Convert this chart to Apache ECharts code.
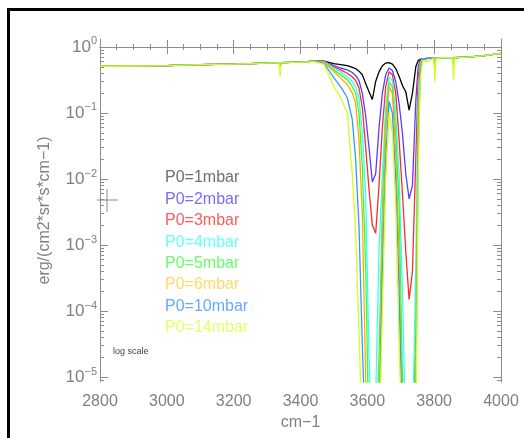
<!DOCTYPE html>
<html>
<head>
<meta charset="utf-8">
<title>P0 spectra</title>
<script src="https://cdn.jsdelivr.net/npm/echarts@6/dist/echarts.min.js"></script>
<style>
  html, body { margin: 0; padding: 0; background: #fff; }
  #chart { width: 524px; height: 438px; }
</style>
</head>
<body>
<div id="chart"></div>
<script>
// wavenumber grid (cm-1), shared by all spectra
const wavenumber = [2800, 2900, 3000, 3100, 3200, 3300, 3336, 3339, 3342, 3400, 3440,
  3470, 3500, 3520, 3540, 3555,
  3565, 3575, 3585, 3595, 3605, 3615, 3625, 3635, 3645, 3655, 3665, 3675, 3685, 3695,
  3705, 3715, 3725, 3735, 3745, 3752, 3758,
  3765, 3780, 3799, 3802, 3805, 3855, 3858, 3861, 3900, 3950, 4000];

// radiance, erg/(cm2*sr*s*cm-1)
const p1mbar = [0.51, 0.515, 0.52, 0.54, 0.55, 0.57, 0.58, 0.58, 0.58, 0.59, 0.61,
  0.61, 0.56, 0.54, 0.52, 0.49,
  0.47, 0.43, 0.38, 0.28, 0.21, 0.16, 0.30, 0.42, 0.52, 0.57, 0.58, 0.55, 0.47, 0.36,
  0.26, 0.21, 0.11, 0.20, 0.50, 0.62, 0.65,
  0.66, 0.67, 0.68, 0.68, 0.68, 0.69, 0.69, 0.69, 0.70, 0.74, 0.80];
const p2mbar = [0.51, 0.515, 0.52, 0.54, 0.55, 0.57, 0.58, 0.58, 0.58, 0.59, 0.61,
  0.61, 0.52, 0.48, 0.45, 0.41,
  0.37, 0.31, 0.20, 0.09, 0.03, 0.009, 0.012, 0.06, 0.20, 0.38, 0.48, 0.44, 0.30, 0.14,
  0.05, 0.012, 0.005, 0.008, 0.15, 0.50, 0.63,
  0.66, 0.67, 0.68, 0.68, 0.68, 0.69, 0.69, 0.69, 0.70, 0.74, 0.80];
const p3mbar = [0.51, 0.515, 0.52, 0.54, 0.55, 0.57, 0.58, 0.58, 0.58, 0.59, 0.61,
  0.60, 0.50, 0.45, 0.40, 0.35,
  0.31, 0.24, 0.12, 0.03, 0.007, 0.002, 0.0015, 0.008, 0.06, 0.25, 0.42, 0.38, 0.20, 0.04,
  0.006, 0.0008, 0.00015, 0.0004, 0.02, 0.35, 0.60,
  0.66, 0.67, 0.68, 0.68, 0.68, 0.69, 0.69, 0.69, 0.70, 0.74, 0.80];
const p4mbar = [0.51, 0.515, 0.52, 0.54, 0.55, 0.57, 0.58, 0.58, 0.58, 0.59, 0.61,
  0.60, 0.48, 0.42, 0.36, 0.30,
  0.25, 0.17, 0.05, 0.006, 0.00002, 1e-6, 5e-6, 0.0008, 0.012, 0.12, 0.35, 0.31, 0.10, 0.012,
  0.0002, 1e-6, 1e-6, 1e-6, 0.0005, 0.15, 0.55,
  0.66, 0.67, 0.68, 0.68, 0.68, 0.69, 0.69, 0.69, 0.70, 0.74, 0.80];
const p5mbar = [0.51, 0.515, 0.52, 0.54, 0.55, 0.57, 0.58, 0.50, 0.58, 0.59, 0.61,
  0.59, 0.45, 0.38, 0.32, 0.25,
  0.20, 0.10, 0.015, 0.0005, 1e-6, 1e-6, 1e-6, 2e-5, 0.004, 0.08, 0.29, 0.25, 0.05, 0.004,
  1e-5, 1e-6, 1e-6, 1e-6, 5e-5, 0.08, 0.50,
  0.66, 0.67, 0.68, 0.50, 0.68, 0.69, 0.52, 0.69, 0.70, 0.74, 0.80];
const p6mbar = [0.51, 0.515, 0.52, 0.54, 0.55, 0.57, 0.58, 0.58, 0.58, 0.59, 0.61,
  0.59, 0.42, 0.34, 0.27, 0.20,
  0.14, 0.04, 0.003, 1e-5, 1e-6, 1e-6, 1e-6, 3e-6, 0.0015, 0.05, 0.25, 0.20, 0.025, 0.0008,
  1e-6, 1e-6, 1e-6, 1e-6, 1e-5, 0.04, 0.45,
  0.65, 0.67, 0.68, 0.68, 0.68, 0.69, 0.69, 0.69, 0.70, 0.74, 0.80];
const p10mbar = [0.51, 0.515, 0.52, 0.54, 0.55, 0.57, 0.58, 0.52, 0.58, 0.59, 0.61,
  0.57, 0.34, 0.25, 0.17, 0.08,
  0.02, 0.002, 3e-5, 1e-6, 1e-6, 1e-6, 1e-6, 1e-6, 0.0004, 0.02, 0.15, 0.10, 0.01, 0.0002,
  1e-6, 1e-6, 1e-6, 1e-6, 2e-6, 0.02, 0.40,
  0.64, 0.67, 0.68, 0.60, 0.68, 0.69, 0.69, 0.69, 0.70, 0.74, 0.80];
const p14mbar = [0.51, 0.515, 0.52, 0.54, 0.55, 0.57, 0.58, 0.35, 0.58, 0.59, 0.60,
  0.55, 0.25, 0.17, 0.10, 0.012,
  0.0015, 5e-5, 1e-6, 1e-6, 1e-6, 1e-6, 1e-6, 1e-6, 0.0001, 0.01, 0.10, 0.05, 0.004, 3e-5,
  1e-6, 1e-6, 1e-6, 1e-6, 1e-6, 0.01, 0.30,
  0.62, 0.60, 0.68, 0.30, 0.68, 0.69, 0.32, 0.69, 0.70, 0.74, 0.80];

const seriesNames = ['P0=1mbar', 'P0=2mbar', 'P0=3mbar', 'P0=4mbar',
  'P0=5mbar', 'P0=6mbar', 'P0=10mbar', 'P0=14mbar'];
const seriesValues = [p1mbar, p2mbar, p3mbar, p4mbar, p5mbar, p6mbar, p10mbar, p14mbar];
const lineColors = ['#000000', '#5a3cff', '#ff2a2a', '#33ffff',
  '#33ff33', '#ffaa00', '#3399ff', '#d4ff1a'];
const legendColors = ['#6e6e6e', '#7d6bff', '#ff5c5c', '#66ffff',
  '#66ff66', '#ffd966', '#66aaff', '#e6ff66'];

// axes
const xMin = 2800, xMax = 4000, xStep = 200;
const yMin = 8.4e-6, yMax = 1.32;
const yDecades = [0, -1, -2, -3, -4, -5];

const fontFamily = "'Liberation Sans', Arial, sans-serif";
const axisGray = '#8c8c8c';
const textGray = '#808080';

const expMin = Math.log10(yMin);
const expMax = Math.log10(yMax);
// log sub-ticks 2..9 inside each decade
const minorExp = [];
for (let d = -6; d <= 0; d++) {
  for (let k = 2; k <= 9; k++) {
    const v = d + Math.log10(k);
    if (v > expMin && v < expMax) minorExp.push(v);
  }
}

function decadeAxis(position, major, withLabels) {
  return {
    type: 'value',
    position: position,
    min: expMin,
    max: expMax,
    splitLine: { show: false },
    axisLine: { show: major, lineStyle: { color: axisGray, width: 1 } },
    axisTick: {
      show: true,
      inside: true,
      length: major ? 8 : 4,
      customValues: major ? yDecades : minorExp,
      lineStyle: { color: axisGray, width: 1 }
    },
    axisLabel: withLabels ? {
      show: true,
      margin: 3,
      customValues: yDecades,
      formatter: (v) => '{b|10}{s|' + (v < 0 ? '\u2212' + Math.abs(Math.round(v)) : '0') + '}',
      rich: {
        b: { fontSize: 17, lineHeight: 22, color: textGray, fontFamily: fontFamily },
        s: { fontSize: 11, verticalAlign: 'top', color: textGray, fontFamily: fontFamily }
      }
    } : { show: false },
    name: withLabels ? 'erg/(cm2*sr*s*cm\u22121)' : '',
    nameLocation: 'middle',
    nameGap: 47,
    nameTextStyle: { fontSize: 16, color: textGray, fontFamily: fontFamily }
  };
}

function wnAxis(position, withLabels) {
  return {
    type: 'value',
    position: position,
    min: xMin,
    max: xMax,
    interval: xStep,
    splitLine: { show: false },
    axisLine: { show: true, lineStyle: { color: axisGray, width: 1 } },
    axisTick: { show: true, inside: true, length: 7, lineStyle: { color: axisGray } },
    minorTick: { show: true, splitNumber: 4, length: 3, lineStyle: { color: axisGray } },
    axisLabel: withLabels ? {
      show: true, margin: 12, fontSize: 16, color: textGray, fontFamily: fontFamily,
      formatter: (v) => String(v)
    } : { show: false },
    name: withLabels ? 'cm\u22121' : '',
    nameLocation: 'middle',
    nameGap: 29,
    nameTextStyle: { fontSize: 16, color: textGray, fontFamily: fontFamily }
  };
}

const chart = echarts.init(document.getElementById('chart'), null, { renderer: 'canvas' });

chart.setOption({
  animation: false,
  backgroundColor: '#ffffff',
  grid: { left: 100, right: 23, top: 39, bottom: 56, containLabel: false, outerBoundsMode: 'none' },
  legend: {
    orient: 'vertical',
    left: 160,
    top: 168,
    padding: 0,
    itemGap: 1.4,
    itemWidth: 0,
    itemHeight: 10,
    icon: 'none',
    selectedMode: false,
    textStyle: { fontSize: 16, lineHeight: 20, fontFamily: fontFamily },
    data: seriesNames.map((n, i) => ({ name: n, textStyle: { color: legendColors[i] } }))
  },
  xAxis: [wnAxis('bottom', true), wnAxis('top', false)],
  yAxis: [
    // data axis (log), drawn by the decade axes below
    { type: 'log', logBase: 10, min: yMin, max: yMax, show: false },
    decadeAxis('left', true, true),
    decadeAxis('left', false, false),
    decadeAxis('right', true, false),
    decadeAxis('right', false, false)
  ],
  series: seriesNames.map((n, i) => ({
    name: n,
    type: 'line',
    xAxisIndex: 0,
    yAxisIndex: 0,
    showSymbol: false,
    symbol: 'none',
    clip: true,
    color: lineColors[i],
    lineStyle: { color: lineColors[i], width: 1.3 },
    data: wavenumber.map((w, j) => [w, seriesValues[i][j]])
  })),
  graphic: [
    // page frame (top and left edges)
    { type: 'rect', shape: { x: 7, y: 8, width: 517, height: 3 }, style: { fill: '#000' } },
    { type: 'rect', shape: { x: 7, y: 8, width: 3, height: 430 }, style: { fill: '#000' } },
    // cursor cross
    { type: 'line', shape: { x1: 97, y1: 200, x2: 118, y2: 200 }, style: { stroke: '#888', lineWidth: 1 } },
    { type: 'line', shape: { x1: 107, y1: 189, x2: 107, y2: 212 }, style: { stroke: '#888', lineWidth: 1 } },
    {
      type: 'text', left: 113, top: 347,
      style: { text: 'log scale', fontSize: 9, fill: '#444', fontFamily: fontFamily }
    }
  ]
});
</script>
</body>
</html>
